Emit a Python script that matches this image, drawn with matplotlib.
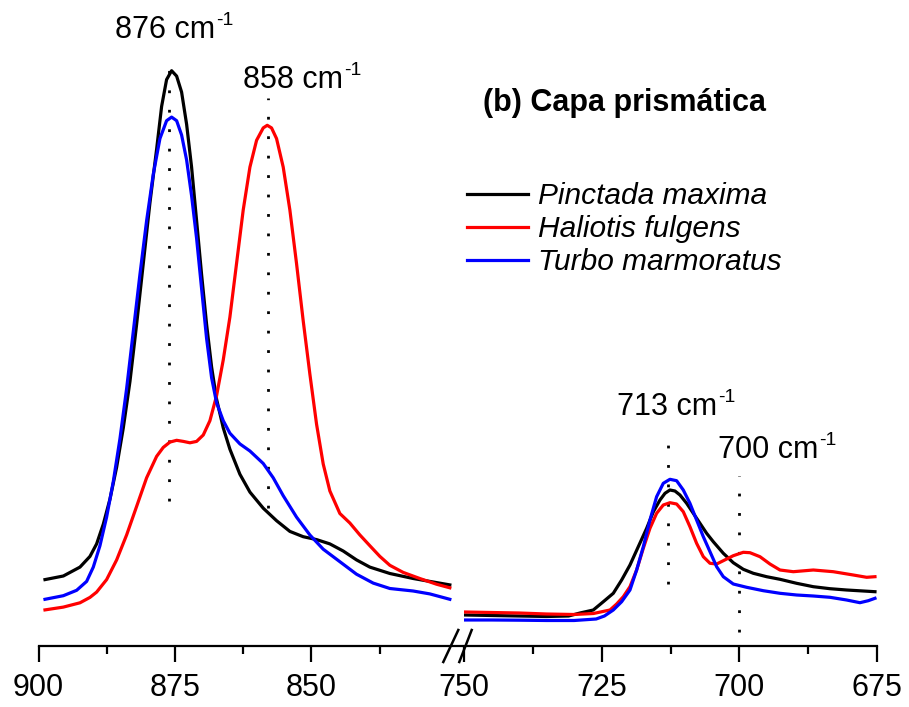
import numpy as np
import matplotlib
matplotlib.use("Agg")
import matplotlib.pyplot as plt
from matplotlib.lines import Line2D

plt.rcParams['font.family'] = 'Liberation Sans'

# ---- data (wavenumber in cm-1, absorbance a.u.) ----
# left window 900-824 cm-1
pm_left_x = [898.81, 895.45, 892.40, 890.57, 889.35, 888.13, 886.91, 885.68, 884.46, 883.24,
             882.02, 880.80, 879.58, 878.36, 877.44, 876.53, 875.61, 874.69, 873.78, 872.86,
             871.95, 871.03, 870.12, 869.20, 868.28, 867.37, 866.15, 864.93, 863.10, 861.26,
             858.82, 856.38, 853.94, 851.50, 849.05, 846.61, 844.17, 841.73, 839.29, 835.62,
             831.35, 828.30, 824.63]
pm_left_y = [0.664, 0.700, 0.789, 0.896, 1.021, 1.218, 1.468, 1.789, 2.182, 2.646,
             3.217, 3.825, 4.432, 4.967, 5.396, 5.664, 5.753, 5.699, 5.539, 5.217,
             4.789, 4.253, 3.717, 3.217, 2.789, 2.468, 2.182, 1.968, 1.718, 1.539,
             1.378, 1.253, 1.146, 1.093, 1.064, 1.021, 0.950, 0.861, 0.789, 0.725,
             0.675, 0.646, 0.611]

hf_left_x = [898.81, 895.45, 892.40, 890.57, 889.35, 887.52, 885.68, 883.85, 882.02, 880.19,
             878.36, 877.14, 875.92, 874.69, 873.47, 872.25, 871.03, 869.81, 868.59, 867.37,
             866.15, 864.93, 863.71, 862.49, 861.26, 860.04, 858.82, 858.09, 857.30, 856.38,
             855.16, 853.94, 852.72, 851.50, 850.27, 849.05, 847.83, 846.61, 844.78, 842.95,
             841.12, 839.29, 837.45, 835.62, 833.18, 830.13, 827.08, 824.63]
hf_left_y = [0.361, 0.389, 0.432, 0.486, 0.539, 0.664, 0.861, 1.111, 1.396, 1.682,
             1.896, 1.986, 2.039, 2.057, 2.046, 2.032, 2.046, 2.110, 2.253, 2.503,
             2.860, 3.289, 3.825, 4.360, 4.789, 5.057, 5.181, 5.207, 5.181, 5.074,
             4.789, 4.360, 3.825, 3.253, 2.717, 2.218, 1.820, 1.550, 1.325, 1.230,
             1.111, 1.003, 0.896, 0.807, 0.736, 0.675, 0.618, 0.582]

tm_left_x = [898.81, 895.45, 893.01, 891.18, 889.96, 888.74, 887.52, 886.29, 885.07, 883.85,
             882.63, 881.41, 880.19, 878.97, 877.75, 876.53, 875.61, 874.69, 873.78, 872.86,
             871.95, 871.03, 870.12, 869.20, 868.28, 867.37, 866.15, 864.93, 863.10, 861.26,
             858.82, 856.99, 855.16, 852.72, 850.27, 847.83, 844.78, 841.73, 838.67, 835.62,
             831.35, 828.30, 824.63]
tm_left_y = [0.467, 0.503, 0.557, 0.646, 0.789, 1.003, 1.289, 1.646, 2.075, 2.575,
             3.146, 3.717, 4.253, 4.717, 5.074, 5.253, 5.289, 5.253, 5.110, 4.860,
             4.503, 4.075, 3.575, 3.075, 2.682, 2.432, 2.253, 2.128, 2.021, 1.950,
             1.825, 1.682, 1.503, 1.289, 1.110, 0.968, 0.843, 0.718, 0.629, 0.575,
             0.550, 0.521, 0.467]

# right window 750-675 cm-1
pm_right_x = [749.8, 745.0, 740.0, 735.0, 731.0, 728.94, 726.52, 724.70, 722.89, 721.37,
              719.86, 718.35, 716.83, 715.61, 714.41, 713.50, 712.60, 711.69, 710.78, 709.57,
              708.36, 707.15, 705.94, 704.73, 702.91, 701.10, 699.28, 697.46, 695.04, 692.62,
              689.60, 686.57, 683.54, 680.52, 677.49, 675.37]
pm_right_y = [0.310, 0.305, 0.300, 0.295, 0.300, 0.330, 0.360, 0.443, 0.527, 0.660,
              0.810, 0.993, 1.177, 1.343, 1.460, 1.527, 1.560, 1.550, 1.510, 1.427,
              1.327, 1.227, 1.127, 1.043, 0.927, 0.833, 0.767, 0.727, 0.693, 0.667,
              0.627, 0.593, 0.573, 0.560, 0.550, 0.543]

hf_right_x = [749.8, 745.0, 740.0, 735.0, 730.0, 726.5, 723.49, 722.28, 721.07, 719.86,
              718.65, 717.44, 716.23, 715.02, 713.81, 712.60, 711.39, 710.18, 708.97, 707.76,
              706.54, 705.33, 704.12, 702.91, 701.10, 699.28, 698.07, 696.25, 694.44, 692.62,
              690.20, 686.57, 682.94, 679.31, 676.88, 675.37]
hf_right_y = [0.340, 0.335, 0.330, 0.320, 0.315, 0.325, 0.360, 0.420, 0.493, 0.593,
              0.760, 0.977, 1.177, 1.327, 1.410, 1.433, 1.420, 1.343, 1.193, 1.027,
              0.893, 0.827, 0.820, 0.853, 0.903, 0.937, 0.933, 0.893, 0.820, 0.760,
              0.743, 0.760, 0.743, 0.710, 0.687, 0.693]

tm_right_x = [749.8, 745.0, 740.0, 735.0, 730.0, 726.0, 724.5, 722.89, 721.37, 719.86,
              718.65, 717.44, 716.23, 715.02, 713.81, 712.60, 711.39, 710.18, 708.97, 707.76,
              706.54, 705.33, 704.12, 702.91, 701.10, 698.67, 695.65, 692.62, 689.60, 686.57,
              683.54, 680.52, 678.10, 676.58, 675.37]
tm_right_y = [0.260, 0.260, 0.258, 0.255, 0.255, 0.270, 0.300, 0.360, 0.443, 0.560,
              0.760, 0.993, 1.260, 1.493, 1.627, 1.667, 1.653, 1.560, 1.427, 1.260,
              1.093, 0.943, 0.793, 0.693, 0.620, 0.587, 0.553, 0.527, 0.510, 0.500,
              0.487, 0.460, 0.433, 0.453, 0.477]

labels = ["Pinctada maxima", "Haliotis fulgens", "Turbo marmoratus"]
colors = ["black", "#ff0000", "#0000ff"]

left_ticks = [900, 875, 850]
right_ticks = [750, 725, 700, 675]

# marked bands: position, dotted line extent, label anchor
bands = [876, 858, 713, 700]
band_lo = [1.45, 1.38, 0.62, 0.14]
band_hi = [5.89, 5.48, 2.15, 1.70]
band_text_x = [886.0, 862.5, 722.2, 703.9]
band_text_y = [6.08, 5.58, 2.31, 1.88]

W, H = 909, 707
fig = plt.figure(figsize=(W / 100, H / 100), dpi=100)


def fx(px):
    return px / W


def fy(py):
    return 1 - py / H


ax_l = fig.add_axes([fx(38.5), fy(646), fx(462) - fx(38.5), fy(0) - fy(646)])
ax_r = fig.add_axes([fx(464), fy(646), fx(877) - fx(464), fy(0) - fy(646)])
ax_l.set_xlim(900, 822.4)
ax_r.set_xlim(750, 675)

for ax in (ax_l, ax_r):
    ax.set_ylim(0, 6.46)
    ax.patch.set_visible(False)
    for s in ("top", "left", "right"):
        ax.spines[s].set_visible(False)
    ax.spines["bottom"].set_linewidth(1.6)
    ax.set_yticks([])
    ax.tick_params(axis="x", which="major", direction="out", length=11.5,
                   width=1.6, labelsize=22, pad=8)
    ax.tick_params(axis="x", which="minor", direction="out", length=6, width=1.6)

ax_l.set_xticks(left_ticks)
ax_l.set_xticks([887.5, 862.5, 837.5], minor=True)
ax_r.set_xticks(right_ticks)
ax_r.set_xticks([737.5, 712.5, 687.5], minor=True)

dots = (0, (1, 6))
for i, b in enumerate(bands):
    ax = ax_l if b > 800 else ax_r
    ax.plot([b, b], [band_lo[i], band_hi[i]], ls=dots, lw=2.0, color="black", zorder=1)
    t = ax.text(band_text_x[i], band_text_y[i], f"{b} cm", fontsize=22,
                ha="left", va="baseline")
    ax.annotate("-1", xy=(1, 1), xycoords=t, xytext=(1, 2), textcoords="offset points",
                fontsize=14, ha="left", va="top")

series_l = [(pm_left_x, pm_left_y), (hf_left_x, hf_left_y), (tm_left_x, tm_left_y)]
series_r = [(pm_right_x, pm_right_y), (hf_right_x, hf_right_y), (tm_right_x, tm_right_y)]
for (xl, yl), (xr, yr), c in zip(series_l, series_r, colors):
    ax_l.plot(xl, yl, color=c, lw=2.3, zorder=3, solid_joinstyle="round")
    ax_r.plot(xr, yr, color=c, lw=2.3, zorder=3, solid_joinstyle="round")

# break marks on the axis
for x0, x1 in [(443.3, 458.3), (459.3, 471.7)]:
    fig.add_artist(Line2D([fx(x0), fx(x1)], [fy(662), fy(630)], color="black",
                          lw=1.8, transform=fig.transFigure))

fig.text(fx(483), fy(111), "(b) Capa prismática", fontsize=22, fontweight="bold",
         ha="left", va="baseline")

handles = [Line2D([], [], color=c, lw=2.3) for c in colors]
fig.legend(handles, labels, loc="upper left", bbox_to_anchor=(fx(467), fy(182)),
           frameon=False, prop={"style": "italic", "size": 21.5},
           handlelength=2.05, handletextpad=0.33, labelspacing=0.17,
           borderpad=0, borderaxespad=0)

fig.savefig("out.png", dpi=100)
